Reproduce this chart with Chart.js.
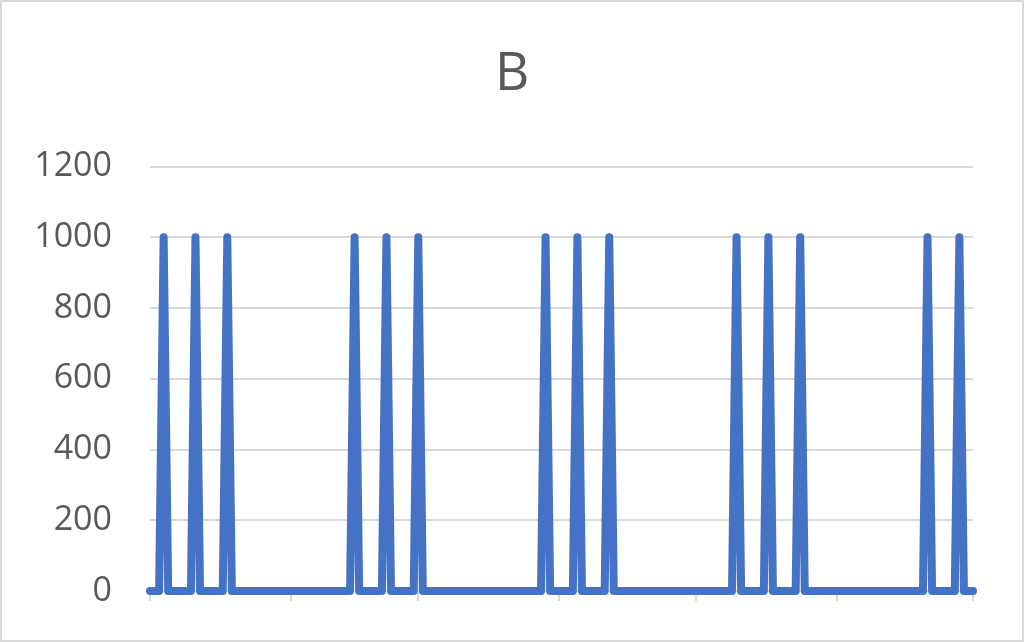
<!DOCTYPE html>
<html>
<head>
<meta charset="utf-8">
<script src="https://cdn.jsdelivr.net/npm/chart.js@4"></script>
<style>
    body { margin: 0; background: #fff; }
    #wrap { width: 1024px; height: 642px; }
</style>
</head>
<body>
<div id="wrap"><canvas id="b-chart"></canvas></div>
<script>
// daily values, Jan 1 .. Jul 1
var jan = [0,0,0,1000,0,0,0,0,0,0,1000,0,0,0,0,0,0,1000,
           0,0,0,0,0, 0,0,0,0,0, 0,0,0];
var feb = [0,0,0,0,0, 0,0,0,0,0, 0,0,0,0, 1000,0,0,0,0,0,0,1000,0,0,0,0,0,0];
var mar = [1000, 0,0,0,0,0, 0,0,0,0,0, 0,0,0,0,0, 0,0,0,0,0, 0,0,0,0,0, 0,0, 1000,0,0];
var apr = [0,0,0,0, 1000,0,0,0,0,0,0,1000, 0,0,0,0,0, 0,0,0,0,0, 0,0,0,0,0, 0,0,0];
var may = [0,0,0,0,0, 0,0,0,0, 1000,0,0,0,0,0,0,1000,0,0,0,0,0,0,1000, 0,0,0,0,0, 0,0];
var jun = [0,0,0,0,0, 0,0,0,0,0, 0,0,0,0,0, 0,0,0,0,0, 1000,0,0,0,0,0,0,1000,0,0];
var jul = [0];

var values = jan.concat(feb, mar, apr, may, jun, jul);
// day number of each point (0 = Jan 1)
var days = values.map(function(v, i) { return i; });

// month boundaries on the date axis (Jan 1, Feb 1, ... Jul 1)
var monthStarts = [0, 31, 59, 90, 120, 151, 181];
var yTicks = [0, 200, 400, 600, 800, 1000, 1200];

var frame = {
    id: 'frame',
    beforeDraw: function(chart) {
        var c = chart.ctx;
        c.save();
        c.fillStyle = '#ffffff';
        c.fillRect(0, 0, chart.width, chart.height);
        c.strokeStyle = '#d9d9d9';
        c.lineWidth = 2;
        c.strokeRect(1, 1, chart.width - 2, chart.height - 2);
        c.restore();
    }
};

const ctx = document.getElementById('b-chart');

new Chart(ctx, {
    type: 'line',
    data: {
        labels: days,
        datasets: [{
            label: 'B',
            data: values,
            borderColor: '#4472C4',
            borderWidth: 8,
            borderJoinStyle: 'round',
            borderCapStyle: 'round',
            pointRadius: 0,
            tension: 0,
            clip: false
        }]
    },
    plugins: [frame],
    options: {
        responsive: true,
        maintainAspectRatio: false,
        animation: false,
        layout: { padding: 0 },
        plugins: {
            legend: { display: false },
            tooltip: { enabled: false },
            title: {
                display: true,
                text: 'B',
                color: '#595959',
                font: { family: 'Open Sans', size: 53, weight: 'normal', lineHeight: 1.2 },
                padding: { top: 43, bottom: 60 }
            }
        },
        scales: {
            x: {
                type: 'linear',
                min: 0,
                max: 181,
                afterBuildTicks: function(scale) {
                    scale.ticks = monthStarts.map(function(v) { return { value: v }; });
                },
                afterFit: function(scale) { scale.height = 51; },
                ticks: { display: false, autoSkip: false },
                grid: {
                    drawOnChartArea: false,
                    drawTicks: true,
                    tickLength: 10,
                    color: '#d9d9d9',
                    lineWidth: 2
                },
                border: { display: true, color: '#d9d9d9', width: 2 }
            },
            y: {
                min: 0,
                max: 1200,
                afterBuildTicks: function(scale) {
                    scale.ticks = yTicks.map(function(v) { return { value: v }; });
                },
                afterFit: function(scale) { scale.width = 150; },
                ticks: {
                    color: '#595959',
                    padding: 0,
                    font: { family: 'Open Sans', size: 34 },
                    callback: function(v) { return String(v); }
                },
                // invisible tick marks make the gap between labels and plot
                grid: {
                    color: '#d9d9d9',
                    lineWidth: 2,
                    drawTicks: true,
                    tickLength: 38,
                    tickColor: 'rgba(0,0,0,0)'
                },
                border: { display: false }
            },
            // empty right-hand strip so the plot ends where the original does
            yRight: {
                position: 'right',
                display: true,
                min: 0,
                max: 1200,
                afterFit: function(scale) { scale.width = 51; },
                ticks: { display: false },
                grid: { display: false, drawTicks: false },
                border: { display: false }
            }
        }
    }
});
</script>
</body>
</html>
